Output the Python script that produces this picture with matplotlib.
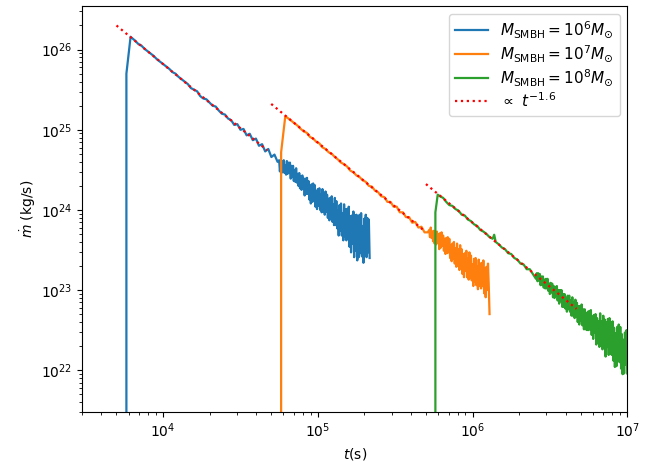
import numpy as np
import matplotlib
matplotlib.use("Agg")
import matplotlib.pyplot as plt

# ---- data: log10 of t [s] and log10 of mdot [kg/s] ----
# M = 1e6 Msun (blue)
blue_log_t = [3.763, 3.763, 3.790,
              3.82, 3.84, 3.86, 3.88, 3.90, 3.92, 3.94, 3.96, 3.98, 4.00,
              4.02, 4.04, 4.06, 4.08, 4.10, 4.12, 4.14, 4.16, 4.18, 4.20,
              4.22, 4.24, 4.26, 4.28, 4.30, 4.32, 4.34, 4.36, 4.38, 4.40,
              4.42, 4.44, 4.46, 4.48, 4.50, 4.52, 4.54, 4.56, 4.58, 4.60,
              4.62, 4.64, 4.66, 4.68, 4.70, 4.72, 4.74,
              4.750, 4.755, 4.760, 4.765, 4.770, 4.775, 4.780, 4.785, 4.790, 4.795,
              4.800, 4.805, 4.810, 4.815, 4.820, 4.825, 4.830, 4.835, 4.840, 4.845,
              4.850, 4.855, 4.860, 4.865, 4.870, 4.875, 4.880, 4.885, 4.890, 4.895,
              4.900, 4.905, 4.910, 4.915, 4.920, 4.925, 4.930, 4.935, 4.940, 4.945,
              4.950, 4.955, 4.960, 4.965, 4.970, 4.975, 4.980, 4.985, 4.990, 4.995,
              5.000, 5.005, 5.010, 5.015, 5.020, 5.025, 5.030, 5.035, 5.040, 5.045,
              5.050, 5.055, 5.060, 5.065, 5.070, 5.075, 5.080, 5.085, 5.090, 5.095,
              5.100, 5.105, 5.110, 5.115, 5.120, 5.125, 5.130, 5.135, 5.140, 5.145,
              5.150, 5.155, 5.160, 5.165, 5.170, 5.175, 5.180, 5.185, 5.190, 5.195,
              5.200, 5.205, 5.210, 5.215, 5.220, 5.225, 5.230, 5.235, 5.240, 5.245,
              5.250, 5.255, 5.260, 5.265, 5.270, 5.275, 5.280, 5.285, 5.290, 5.295,
              5.300, 5.305, 5.310, 5.315, 5.320, 5.325, 5.330, 5.335]
blue_log_mdot = [20.0, 25.70, 26.16,
                 26.11, 26.07, 26.05, 26.01, 25.98, 25.95, 25.92, 25.88, 25.85, 25.82,
                 25.79, 25.76, 25.72, 25.70, 25.66, 25.63, 25.60, 25.57, 25.52, 25.50,
                 25.48, 25.42, 25.39, 25.38, 25.34, 25.30, 25.29, 25.24, 25.20, 25.19,
                 25.14, 25.12, 25.06, 25.07, 25.00, 25.01, 24.93, 24.95, 24.87, 24.89,
                 24.80, 24.82, 24.73, 24.76, 24.66, 24.69, 24.60,
                 24.62, 24.48, 24.59, 24.46, 24.61, 24.49, 24.62, 24.46, 24.56, 24.44,
                 24.61, 24.45, 24.59, 24.46, 24.59, 24.39, 24.55, 24.41, 24.55, 24.36,
                 24.50, 24.35, 24.52, 24.34, 24.45, 24.30, 24.46, 24.27, 24.42, 24.25,
                 24.43, 24.27, 24.39, 24.18, 24.39, 24.20, 24.40, 24.20, 24.36, 24.13,
                 24.30, 24.08, 24.32, 24.10, 24.33, 24.11, 24.31, 24.04, 24.23, 24.01,
                 24.26, 24.05, 24.27, 24.00, 24.19, 23.97, 24.26, 23.98, 24.19, 23.94,
                 24.23, 23.98, 24.19, 23.90, 24.14, 23.87, 24.15, 23.94, 24.17, 23.85,
                 24.07, 23.81, 24.15, 23.81, 24.11, 23.77, 23.99, 23.68, 24.06, 23.74,
                 24.08, 23.68, 23.96, 23.62, 24.07, 23.67, 24.01, 23.62, 24.01, 23.66,
                 24.04, 23.54, 23.92, 23.47, 23.93, 23.58, 23.98, 23.41, 23.93, 23.49,
                 23.94, 23.37, 23.84, 23.41, 23.94, 23.46, 23.96, 23.42, 23.80, 23.34,
                 23.89, 23.43, 23.94, 23.41, 23.90, 23.47, 23.88, 23.40]

# M = 1e7 Msun (orange)
orange_log_t = [4.763, 4.763, 4.790,
                4.81, 4.83, 4.85, 4.87, 4.89, 4.91, 4.93, 4.95, 4.97, 4.99,
                5.01, 5.03, 5.05, 5.07, 5.09, 5.11, 5.13, 5.15, 5.17, 5.19,
                5.21, 5.23, 5.25, 5.27, 5.29, 5.31, 5.33, 5.35, 5.37, 5.39,
                5.41, 5.43, 5.45, 5.47, 5.49, 5.51, 5.53, 5.55, 5.57, 5.59,
                5.61, 5.63, 5.65, 5.67, 5.69, 5.71,
                5.720, 5.725, 5.730, 5.735, 5.740, 5.745, 5.750, 5.755, 5.760, 5.765,
                5.770, 5.775, 5.780, 5.785, 5.790, 5.795, 5.800, 5.805, 5.810, 5.815,
                5.820, 5.825, 5.830, 5.835, 5.840, 5.845, 5.850, 5.855, 5.860, 5.865,
                5.870, 5.875, 5.880, 5.885, 5.890, 5.895, 5.900, 5.905, 5.910, 5.915,
                5.920, 5.925, 5.930, 5.935, 5.940, 5.945, 5.950, 5.955, 5.960, 5.965,
                5.970, 5.975, 5.980, 5.985, 5.990, 5.995, 6.000, 6.005, 6.010, 6.015,
                6.020, 6.025, 6.030, 6.035, 6.040, 6.045, 6.050, 6.055, 6.060, 6.065,
                6.070, 6.075, 6.080, 6.085, 6.090, 6.095, 6.100, 6.105, 6.110]
orange_log_mdot = [20.0, 24.72, 25.17,
                   25.14, 25.11, 25.08, 25.05, 25.01, 24.98, 24.96, 24.91, 24.89, 24.85,
                   24.83, 24.78, 24.76, 24.72, 24.70, 24.66, 24.63, 24.59, 24.57, 24.54,
                   24.49, 24.47, 24.43, 24.41, 24.37, 24.35, 24.30, 24.29, 24.24, 24.22,
                   24.17, 24.16, 24.10, 24.10, 24.04, 24.04, 23.97, 23.97, 23.91, 23.91,
                   23.84, 23.85, 23.78, 23.79, 23.72, 23.72,
                   23.75, 23.66, 23.78, 23.65, 23.73, 23.61, 23.74, 23.58, 23.72, 23.57,
                   23.73, 23.59, 23.70, 23.51, 23.71, 23.53, 23.72, 23.55, 23.68, 23.49,
                   23.64, 23.45, 23.65, 23.46, 23.66, 23.47, 23.64, 23.40, 23.56, 23.36,
                   23.58, 23.39, 23.60, 23.33, 23.52, 23.29, 23.58, 23.30, 23.51, 23.25,
                   23.56, 23.28, 23.51, 23.20, 23.45, 23.16, 23.46, 23.24, 23.49, 23.16,
                   23.39, 23.13, 23.47, 23.15, 23.43, 23.12, 23.32, 23.05, 23.39, 23.11,
                   23.40, 23.06, 23.30, 23.01, 23.38, 23.05, 23.33, 23.02, 23.34, 23.05,
                   23.37, 22.96, 23.27, 22.91, 23.29, 23.00, 23.33, 23.05, 22.70]

# M = 1e8 Msun (green)
green_log_t = [5.760, 5.760, 5.775,
               5.79, 5.81, 5.83, 5.85, 5.87, 5.89, 5.91, 5.93, 5.95, 5.97,
               5.99, 6.01, 6.03, 6.05, 6.07, 6.09, 6.11, 6.13, 6.14,
               6.15, 6.17, 6.19, 6.21, 6.23, 6.25, 6.27, 6.29, 6.31, 6.33,
               6.35, 6.37, 6.39,
               6.410, 6.415, 6.420, 6.425, 6.430, 6.435, 6.440, 6.445, 6.450, 6.455,
               6.460, 6.465, 6.470, 6.475, 6.480, 6.485, 6.490, 6.495, 6.500, 6.505,
               6.510, 6.515, 6.520, 6.525, 6.530, 6.535, 6.540, 6.545, 6.550, 6.555,
               6.560, 6.565, 6.570, 6.575, 6.580, 6.585, 6.590, 6.595, 6.600, 6.605,
               6.610, 6.615, 6.620, 6.625, 6.630, 6.635, 6.640, 6.645, 6.650, 6.655,
               6.660, 6.665, 6.670, 6.675, 6.680, 6.685, 6.690, 6.695, 6.700, 6.705,
               6.710, 6.715, 6.720, 6.725, 6.730, 6.735, 6.740, 6.745, 6.750, 6.755,
               6.760, 6.765, 6.770, 6.775, 6.780, 6.785, 6.790, 6.795, 6.800, 6.805,
               6.810, 6.815, 6.820, 6.825, 6.830, 6.835, 6.840, 6.845, 6.850, 6.855,
               6.860, 6.865, 6.870, 6.875, 6.880, 6.885, 6.890, 6.895, 6.900, 6.905,
               6.910, 6.915, 6.920, 6.925, 6.930, 6.935, 6.940, 6.945, 6.950, 6.955,
               6.960, 6.965, 6.970, 6.975, 6.980, 6.985, 6.990, 6.995, 7.000]
green_log_mdot = [20.0, 23.97, 24.19,
                  24.17, 24.15, 24.10, 24.06, 24.05, 24.01, 23.99, 23.94, 23.93, 23.88,
                  23.86, 23.82, 23.80, 23.75, 23.73, 23.70, 23.66, 23.64, 23.69,
                  23.60, 23.57, 23.53, 23.51, 23.46, 23.45, 23.40, 23.38, 23.33, 23.32,
                  23.26, 23.26, 23.20,
                  23.14, 23.21, 23.11, 23.21, 23.12, 23.20, 23.06, 23.17, 23.07, 23.17,
                  23.03, 23.13, 23.02, 23.14, 23.02, 23.14, 22.99, 23.08, 22.95, 23.09,
                  22.97, 23.08, 22.91, 23.05, 22.90, 23.04, 22.93, 23.05, 22.87, 23.00,
                  22.83, 23.00, 22.86, 23.00, 22.79, 22.95, 22.79, 22.95, 22.77, 22.90,
                  22.73, 22.93, 22.76, 22.93, 22.73, 22.87, 22.68, 22.91, 22.68, 22.85,
                  22.65, 22.88, 22.67, 22.84, 22.60, 22.80, 22.57, 22.80, 22.62, 22.82,
                  22.56, 22.76, 22.51, 22.76, 22.51, 22.71, 22.50, 22.73, 22.50, 22.74,
                  22.51, 22.75, 22.44, 22.67, 22.39, 22.69, 22.47, 22.70, 22.32, 22.65,
                  22.34, 22.61, 22.29, 22.71, 22.31, 22.61, 22.26, 22.68, 22.31, 22.63,
                  22.17, 22.60, 22.29, 22.64, 22.19, 22.65, 22.21, 22.60, 22.19, 22.61,
                  22.12, 22.53, 22.04, 22.46, 22.05, 22.54, 22.16, 22.57, 22.10, 22.54,
                  22.02, 22.45, 21.95, 22.38, 21.96, 22.47, 22.07, 22.50, 21.96]

labels = [r"$M_{\rm SMBH}=10^6M_{\odot}$",
          r"$M_{\rm SMBH}=10^7M_{\odot}$",
          r"$M_{\rm SMBH}=10^8M_{\odot}$"]
colors = ["#1f77b4", "#ff7f0e", "#2ca02c"]

# power-law guide segments  (mdot ∝ t^-1.6)
fit_exponent = -1.6
fit_t_start = [5.0e3, 5.0e4, 5.0e5]
fit_t_end = [4.7e4, 4.8e5, 4.7e6]
fit_mdot_start = [2.0e26, 2.1e25, 2.1e24]
fit_label = r"$\propto\ t^{-1.6}$"

# ---- plot ----
fig = plt.figure(figsize=(6.68, 4.62), dpi=100)
ax = fig.add_axes([0.123, 0.108, 0.816, 0.879])

series = [(blue_log_t, blue_log_mdot), (orange_log_t, orange_log_mdot),
          (green_log_t, green_log_mdot)]
for (lt, lm), c, lab in zip(series, colors, labels):
    ax.plot(10 ** np.array(lt), 10 ** np.array(lm), color=c, lw=1.6, label=lab)

for i, (t0, t1, m0) in enumerate(zip(fit_t_start, fit_t_end, fit_mdot_start)):
    tt = np.array([t0, t1])
    mm = m0 * (tt / t0) ** fit_exponent
    ax.plot(tt, mm, color="red", ls=":", lw=1.6, zorder=5,
            label=fit_label if i == 0 else None)

ax.set_xscale("log")
ax.set_yscale("log")
ax.set_xlim(3.0e3, 1.0e7)
ax.set_ylim(3.0e21, 3.5e26)
ax.set_xlabel(r"$t$(s)")
ax.set_ylabel(r"$\dot{m}$ (kg/s)", labelpad=2)
ax.legend(loc="upper right", fontsize=11, labelspacing=0.2, handlelength=2.15)

fig.savefig("out.png", dpi=100)
